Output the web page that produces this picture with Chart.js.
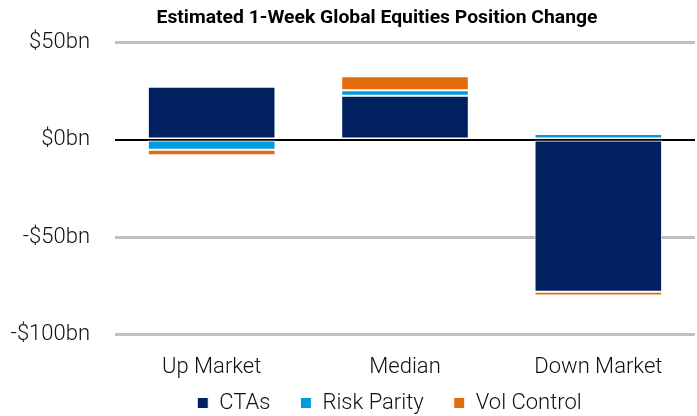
<!DOCTYPE html>
<html>
<head>
<meta charset="utf-8">
<script src="https://cdn.jsdelivr.net/npm/chart.js@4"></script>
<style>
  html, body { margin: 0; padding: 0; background: #fff; }
  #wrap { width: 697px; height: 416px; }
</style>
</head>
<body>
<div id="wrap"><canvas id="myChart"></canvas></div>
<script>
'use strict';

let categories = ['Up Market', 'Median', 'Down Market'];
let ctaValues = [27, 22.5, -78];
let riskParityValues = [-5.3, 2.8, 2.9];
let volControlValues = [-2.8, 7.2, -2];
let yTicks = [50, 0, -50, -100];

let fontFamily = 'Roboto, "DejaVu Sans Condensed", sans-serif';
let labelFont = { family: fontFamily, size: 22, weight: '300' };

// title drawn by hand: bold and squeezed a bit, sitting right of centre
const titlePlugin = {
  id: 'titlePlugin',
  afterDraw(chart) {
    let ctx = chart.ctx;
    let text = 'Estimated 1-Week Global Equities Position Change';
    ctx.save();
    ctx.font = 'bold 19px ' + fontFamily;
    let w = ctx.measureText(text).width;
    let squeeze = 441 / w;
    ctx.translate(377, 18);
    ctx.scale(squeeze, 1);
    ctx.fillStyle = '#000';
    ctx.textAlign = 'center';
    ctx.textBaseline = 'middle';
    ctx.fillText(text, 0, 0);
    ctx.restore();
  }
};

// legend: keep the chart area tall, then nudge the legend box into place
const legendNudge = {
  id: 'legendNudge',
  beforeInit(chart) {
    let legend = chart.legend;
    let origFit = legend.fit;
    legend.fit = function () {
      origFit.call(this);
      this.height = 15;
    };
  },
  afterLayout(chart) {
    let legend = chart.legend;
    legend.left += 42;
    legend.right += 42;
    legend.top = 362;
    legend.bottom = 416;
  }
};

function barSet(label, values, color) {
  return {
    label: label,
    data: values,
    backgroundColor: color,
    borderColor: '#ffffff',
    borderWidth: 1,
    borderSkipped: false,
    categoryPercentage: 0.66,
    barPercentage: 1
  };
}

const data = {
  labels: categories,
  datasets: [
    barSet('CTAs', ctaValues, '#002060'),
    barSet('Risk Parity', riskParityValues, '#009ADE'),
    barSet('Vol Control', volControlValues, '#E36C0A')
  ]
};

const config = {
  type: 'bar',
  data: data,
  plugins: [titlePlugin, legendNudge],
  options: {
    responsive: true,
    maintainAspectRatio: false,
    animation: false,
    layout: {
      padding: { top: 42, right: 2, left: 0, bottom: 0 }
    },
    plugins: {
      title: { display: false },
      tooltip: { enabled: false },
      legend: {
        position: 'bottom',
        labels: {
          boxWidth: 11,
          boxHeight: 11,
          padding: 30,
          color: '#111',
          font: labelFont
        }
      }
    },
    scales: {
      x: {
        stacked: true,
        grid: { display: false, drawTicks: false },
        border: { display: false },
        ticks: {
          color: '#111',
          padding: 20,
          font: labelFont
        }
      },
      y: {
        stacked: true,
        min: -100,
        max: 50,
        afterBuildTicks(axis) {
          axis.ticks = yTicks.map(v => ({ value: v }));
        },
        afterFit(axis) {
          axis.width = 115;
        },
        border: { display: false },
        grid: {
          drawTicks: false,
          lineWidth: ctx => (ctx.tick && ctx.tick.value === 0 ? 2 : 3),
          color: ctx => (ctx.tick && ctx.tick.value === 0 ? '#000000' : '#c0c0c0')
        },
        ticks: {
          color: '#111',
          padding: 25,
          font: labelFont,
          callback: v => (v < 0 ? '-$' + Math.abs(v) + 'bn' : '$' + v + 'bn')
        }
      }
    }
  }
};

const myChart = new Chart(document.getElementById('myChart'), config);
</script>
</body>
</html>
